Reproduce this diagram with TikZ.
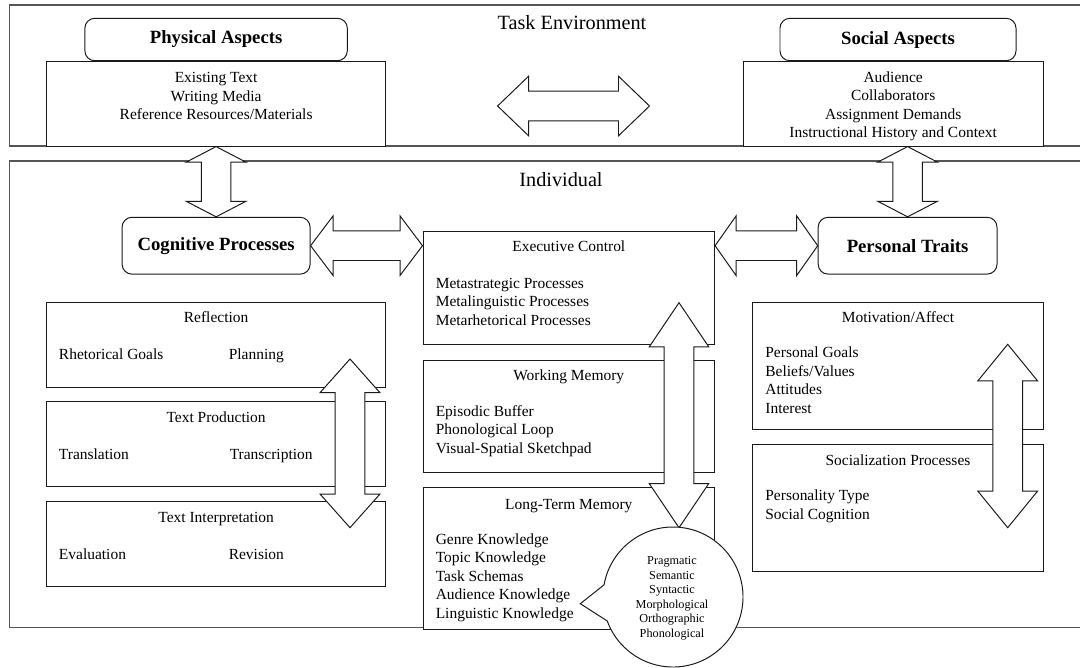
\documentclass[tikz,border=0pt]{standalone}
\usepackage{fontspec}
\setmainfont{Liberation Serif}
\usetikzlibrary{positioning, calc}
\definecolor{boxline}{HTML}{1A1A1A}
\definecolor{framegray}{HTML}{555555}

% block double arrows: tip, tip, head length (px units)
\newcommand{\vbigarrow}[3]{%
  \draw[bigarrow] (#1) -- ($(#1)+(29.8,#3)$) -- ($(#1)+(14.8,#3)$)
    -- ($(#2)+(14.8,-#3)$) -- ($(#2)+(29.8,-#3)$) -- (#2)
    -- ($(#2)+(-29.8,-#3)$) -- ($(#2)+(-14.8,-#3)$)
    -- ($(#1)+(-14.8,#3)$) -- ($(#1)+(-29.8,#3)$) -- cycle;}
\newcommand{\hbigarrow}[3]{%
  \draw[bigarrow] (#1) -- ($(#1)+(#3,-29.8)$) -- ($(#1)+(#3,-14.8)$)
    -- ($(#2)+(-#3,-14.8)$) -- ($(#2)+(-#3,-29.8)$) -- (#2)
    -- ($(#2)+(-#3,29.8)$) -- ($(#2)+(-#3,14.8)$)
    -- ($(#1)+(#3,14.8)$) -- ($(#1)+(#3,29.8)$) -- cycle;}

\begin{document}
\begin{tikzpicture}[x=0.25mm, y=-0.25mm, font=\fontsize{11}{13.1}\selectfont,
  frame/.style={draw=framegray, line width=1pt},
  itembox/.style={draw=boxline, line width=0.7pt, fill=white, inner sep=0pt},
  headbox/.style={itembox, rounded corners=7pt, font=\fontsize{13.3}{16}\selectfont\bfseries},
  bigarrow/.style={draw=boxline, line width=0.7pt, fill=white, line join=miter},
  boxtitle/.style={anchor=base, inner sep=0pt},
  itemlist/.style={anchor=west, align=left, inner sep=0pt},
  areatitle/.style={anchor=base, inner sep=0pt, font=\fontsize{14.4}{17}\selectfont}]
  \useasboundingbox (0,0) rectangle (1080,667);
  \clip (0,0) rectangle (1080,667);

  % outer frames
  \draw[frame] (9.5,5) rectangle (1095,146);
  \draw[frame] (9.5,161) rectangle (1095,627.3);
  \node[areatitle] (tasktitle) at (572,29.3) {Task Environment};
  \node[areatitle] (indivtitle) at (561,186) {Individual};

  % task environment
  \node[itembox, minimum width=84.8mm, minimum height=21.1mm] (physitems) at (216.1,103.9) {};
  \node[headbox, minimum width=65.6mm, minimum height=10.6mm, above=0pt of physitems] (physhead) {Physical Aspects};
  \node[align=center, inner sep=0pt] (physlist) at ($(physitems.north)+(0,34.9)$)
        {Existing Text\\Writing Media\\Reference Resources/Materials};
  \node[itembox, minimum width=75.1mm, minimum height=21.1mm] (socitems) at (893.2,103.9) {};
  \node[headbox, minimum width=59mm, minimum height=10.6mm, above=0pt of socitems, xshift=1.2mm] (sochead) {Social Aspects};
  \node[align=center, inner sep=0pt] (soclist) at ($(socitems.north)+(0,44.9)$)
        {Audience\\Collaborators\\Assignment Demands\\Instructional History and Context};

  % individual
  \node[headbox, minimum width=47mm, minimum height=14.2mm] (cog) at (216.1,245.7) {Cognitive Processes};
  \node[headbox, minimum width=44.7mm, minimum height=14.2mm] (pt) at (907.6,245.7) {Personal Traits};

  \node[itembox, minimum width=84.8mm, minimum height=21.25mm] (refl) at (216.1,344.8) {};
  \node[itembox, minimum width=84.8mm, minimum height=21.25mm, below=3.35mm of refl] (tprod) {};
  \node[itembox, minimum width=84.8mm, minimum height=21.25mm, below=3.4mm of tprod] (tint) {};
  \node[boxtitle] (refltitle) at ($(refl.north)+(0,20.5)$) {Reflection};
  \node[anchor=base west, inner sep=0pt] (goals) at ($(refl.north west)+(12.7,57.4)$) {Rhetorical Goals};
  \node[anchor=base west, inner sep=0pt] (planning) at ($(refl.north west)+(182.5,57.4)$) {Planning};
  \node[boxtitle] (tprodtitle) at ($(tprod.north)+(0,21)$) {Text Production};
  \node[anchor=base west, inner sep=0pt] (translation) at ($(tprod.north west)+(12.7,58)$) {Translation};
  \node[anchor=base west, inner sep=0pt] (transcription) at ($(tprod.north west)+(183.5,58)$) {Transcription};
  \node[boxtitle] (tinttitle) at ($(tint.north)+(0,21.4)$) {Text Interpretation};
  \node[anchor=base west, inner sep=0pt] (evaluation) at ($(tint.north west)+(12.7,58.5)$) {Evaluation};
  \node[anchor=base west, inner sep=0pt] (revision) at ($(tint.north west)+(182.5,58.5)$) {Revision};

  \node[itembox, minimum width=72.9mm, minimum height=28.3mm] (exec) at (568.8,287.7) {};
  \node[itembox, minimum width=72.9mm, minimum height=28mm, below=3.7mm of exec] (wm) {};
  \node[itembox, minimum width=72.9mm, minimum height=35.4mm, below=3.7mm of wm] (ltm) {};
  \node[boxtitle] (exectitle) at ($(exec.north)+(0,21)$) {Executive Control};
  \node[itemlist] (execlist) at ($(exec.north west)+(13,71)$)
        {Metastrategic Processes\\Metalinguistic Processes\\Metarhetorical Processes};
  \node[boxtitle] (wmtitle) at ($(wm.north)+(0,20.5)$) {Working Memory};
  \node[itemlist] (wmlist) at ($(wm.north west)+(13,71.3)$)
        {Episodic Buffer\\Phonological Loop\\Visual-Spatial Sketchpad};
  \node[boxtitle] (ltmtitle) at ($(ltm.north)+(0,22.2)$) {Long-Term Memory};
  \node[itemlist] (ltmlist) at ($(ltm.north west)+(13,90.1)$)
        {Genre Knowledge\\Topic Knowledge\\Task Schemas\\Audience Knowledge\\Linguistic Knowledge};

  \node[itembox, minimum width=72.7mm, minimum height=31.7mm] (motiv) at (898,365.7) {};
  \node[itembox, minimum width=72.7mm, minimum height=31.85mm, below=3.6mm of motiv] (soczn) {};
  \node[boxtitle] (motivtitle) at ($(motiv.north)+(0,20.2)$) {Motivation/Affect};
  \node[itemlist] (motivlist) at ($(motiv.north west)+(13,78.4)$)
        {Personal Goals\\Beliefs/Values\\Attitudes\\Interest};
  \node[boxtitle] (socztitle) at ($(soczn.north)+(0,21.2)$) {Socialization Processes};
  \node[itemlist] (scznlist) at ($(soczn.north west)+(13,62.5)$)
        {Personality Type\\Social Cognition};

  % arrows
  \coordinate (topl) at (497.6,106);
  \coordinate (topr) at (649.5,106);
  \coordinate (socout) at (pt.north |- socitems.south);
  \coordinate (execin) at (cog.east -| exec.west);
  \coordinate (execout) at (pt.west -| exec.east);
  \coordinate (reflarr) at (350,359);
  \coordinate (tintarr) at (350,527.7);
  \coordinate (execarr) at (679,302.7);
  \coordinate (ltmarr) at (679,527.7);
  \coordinate (motivarr) at (1007.7,344.3);
  \coordinate (socznarr) at (1007.7,527.7);
  \hbigarrow{topl}{topr}{31}
  \vbigarrow{physitems.south}{cog.north}{15.5}
  \vbigarrow{socout}{pt.north}{15.5}
  \hbigarrow{cog.east}{execin}{22.5}
  \hbigarrow{execout}{pt.west}{21}
  \vbigarrow{reflarr}{tintarr}{33.5}
  \vbigarrow{execarr}{ltmarr}{44.2}
  \vbigarrow{motivarr}{socznarr}{36.5}

  % linguistic knowledge bubble
  \coordinate (bubble) at (673,597);
  \coordinate (bubtip) at (580.3,603.7);
  \draw[bigarrow] ($(bubble)+(190:70)$) arc[start angle=190, end angle=520, radius=70]
        -- (bubtip) -- cycle;
  \node[align=center, inner sep=0pt, font=\fontsize{8.7}{10.3}\selectfont] (bubtext)
        at ($(bubble)+(-1,1.3)$)
        {Pragmatic\\Semantic\\Syntactic\\Morphological\\Orthographic\\Phonological};
\end{tikzpicture}
\end{document}
